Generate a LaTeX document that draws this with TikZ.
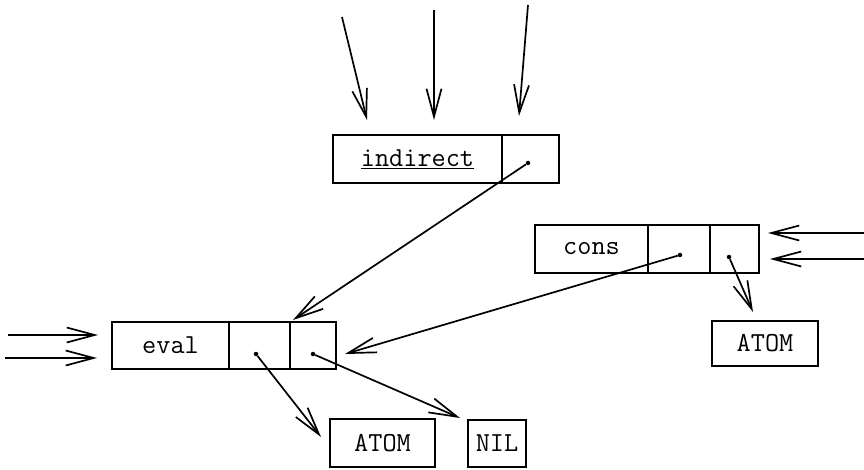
\documentclass[tikz,border=0pt]{standalone}
\usetikzlibrary{arrows.meta}
\begin{document}
\begin{tikzpicture}[x=1pt,y=-1pt,
  cell/.style={draw,line width=1.8pt,inner sep=0pt,minimum height=48pt,font=\fontsize{27.5}{32}\selectfont\ttfamily},
  ptr/.style={line width=1.7pt,-{Straight Barb[length=28pt,width=15pt,line width=1.7pt]}},
  dotmark/.style={circle,fill,inner sep=0pt,minimum size=4.5pt}]
\useasboundingbox (0,0) rectangle (864,470);
% indirect
\node[cell,minimum width=169pt] (ia) at (417.5,159) {\underline{indirect}};
\node[cell,minimum width=57pt] (ib) at (530.5,159) {};
\node[dotmark] (idot) at (528,163) {};
% cons
\node[cell,minimum width=113pt] (ca) at (591.5,249) {cons};
\node[cell,minimum width=62pt] (cb) at (679,249) {};
\node[cell,minimum width=49pt] (cc) at (734.5,249) {};
\node[dotmark] (cdot1) at (680,255) {};
\node[dotmark] (cdot2) at (729,257) {};
% eval
\node[cell,minimum width=117pt,minimum height=47pt] (ea) at (170.5,345.5) {eval};
\node[cell,minimum width=61pt,minimum height=47pt] (eb) at (259.5,345.5) {};
\node[cell,minimum width=46pt,minimum height=47pt] (ec) at (313,345.5) {};
\node[dotmark] (edot1) at (256,354) {};
\node[dotmark] (edot2) at (313,354) {};
% atoms
\node[cell,minimum width=105pt] (atom1) at (382.5,443) {ATOM};
\node[cell,minimum width=58pt,minimum height=47pt] (nil) at (497,443.5) {NIL};
\node[cell,minimum width=106pt,minimum height=45pt] (atom2) at (765,343.5) {ATOM};
% free ends
\coordinate (t1s) at (342,17);  \coordinate (t1e) at (367,120);
\coordinate (t2s) at (434,10);  \coordinate (t2e) at (434,120);
\coordinate (t3s) at (528,5);   \coordinate (t3e) at (519,116);
\coordinate (r1s) at (864,233); \coordinate (r1e) at (768,233);
\coordinate (r2s) at (864,259); \coordinate (r2e) at (770,259);
\coordinate (l1s) at (8,335);   \coordinate (l1e) at (98,335);
\coordinate (l2s) at (5,358);   \coordinate (l2e) at (97,358);
\coordinate (evtop) at (293,320);
\coordinate (evright) at (345,354);
\coordinate (a2tip) at (753,312);
\coordinate (a1tip) at (321,437);
\coordinate (niltip) at (460,418);
% arrows
\draw[ptr] (t1s) -- (t1e);
\draw[ptr] (t2s) -- (t2e);
\draw[ptr] (t3s) -- (t3e);
\draw[ptr] (r1s) -- (r1e);
\draw[ptr] (r2s) -- (r2e);
\draw[ptr] (l1s) -- (l1e);
\draw[ptr] (l2s) -- (l2e);
\draw[ptr] (idot) -- (evtop);
\draw[ptr] (cdot1) -- (evright);
\draw[ptr] (cdot2) -- (a2tip);
\draw[ptr] (edot1) -- (a1tip);
\draw[ptr] (edot2) -- (niltip);
\end{tikzpicture}
\end{document}
